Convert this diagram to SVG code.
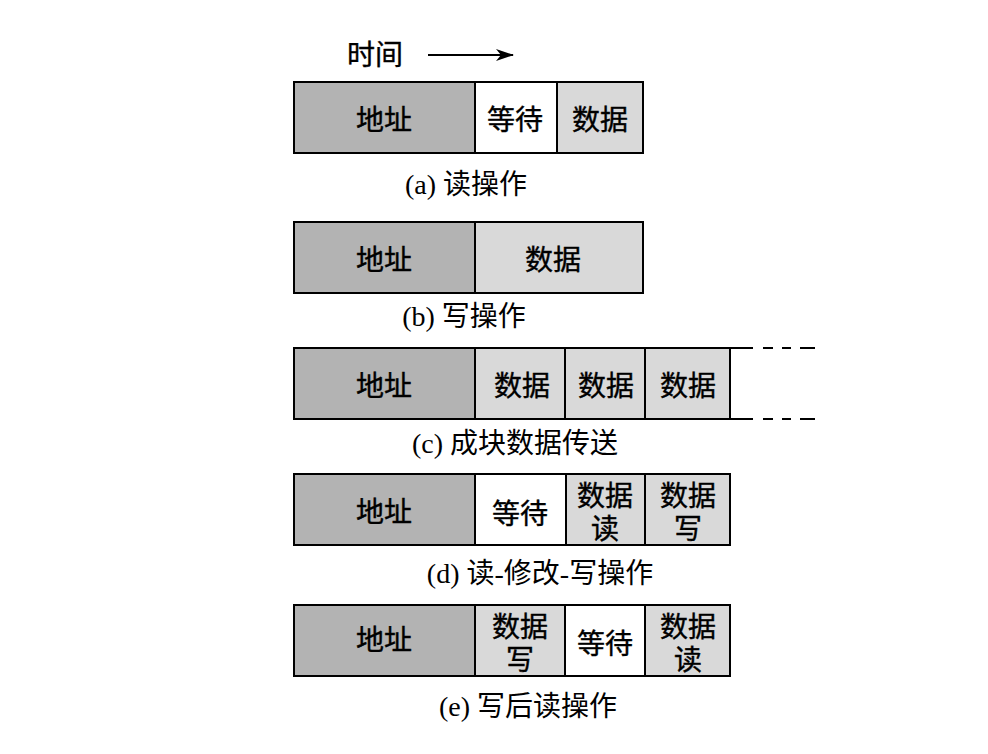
<svg xmlns="http://www.w3.org/2000/svg" width="988" height="754" viewBox="0 0 988 754">
<defs>
<style>
.addr{fill:#b3b3b3;stroke:#000;stroke-width:2}
.data{fill:#d9d9d9;stroke:#000;stroke-width:2}
.wait{fill:#ffffff;stroke:#000;stroke-width:2}
.lbl{font-family:"Noto Sans CJK SC","Liberation Sans",sans-serif;font-size:28px;fill:#000;stroke:#000;stroke-width:0.4;text-anchor:middle;dominant-baseline:central}
.cap{font-family:"Liberation Serif","Noto Sans CJK SC",serif;font-size:28px;fill:#000;text-anchor:middle;dominant-baseline:central}
.line{stroke:#000;stroke-width:2;fill:none}
</style>
<marker id="ah" markerWidth="18" markerHeight="12" refX="17" refY="6" orient="auto" markerUnits="userSpaceOnUse">
<path d="M0,0 L18,6 L0,12 L5,6 Z" fill="#000"/>
</marker>
</defs>
<rect width="988" height="754" fill="#fff"/>
<g id="time">
<text class="lbl" x="375" y="53">时间</text>
<line class="line" x1="428" y1="55" x2="513" y2="55" marker-end="url(#ah)"/>
</g>
<g id="row-a">
<rect class="addr" x="294" y="82" width="181" height="71"/>
<rect class="wait" x="475" y="82" width="82" height="71"/>
<rect class="data" x="557" y="82" width="86" height="71"/>
<text class="lbl" x="384" y="118">地址</text>
<text class="lbl" x="515" y="118">等待</text>
<text class="lbl" x="600" y="118">数据</text>
<text class="cap" x="466" y="184">(a) 读操作</text>
</g>
<g id="row-b">
<rect class="addr" x="294" y="222" width="181" height="71"/>
<rect class="data" x="475" y="222" width="168" height="71"/>
<text class="lbl" x="384" y="258">地址</text>
<text class="lbl" x="553" y="258">数据</text>
<text class="cap" x="464" y="316">(b) 写操作</text>
</g>
<g id="row-c">
<rect class="addr" x="294" y="348" width="181" height="71"/>
<rect class="data" x="475" y="348" width="90" height="71"/>
<rect class="data" x="565" y="348" width="80" height="71"/>
<rect class="data" x="645" y="348" width="85" height="71"/>
<text class="lbl" x="384" y="384">地址</text>
<text class="lbl" x="522" y="384">数据</text>
<text class="lbl" x="606" y="384">数据</text>
<text class="lbl" x="688" y="384">数据</text>
<text class="cap" x="515" y="443">(c) 成块数据传送</text>
</g>
<g id="connectors">
<path class="line" d="M730,348 H753 M763,348 H773 M782,348 H791 M800,348 H815"/>
<path class="line" d="M730,419 H753 M763,419 H773 M782,419 H791 M800,419 H815"/>
</g>
<g id="row-d">
<rect class="addr" x="294" y="474" width="181" height="71"/>
<rect class="wait" x="475" y="474" width="91" height="71"/>
<rect class="data" x="566" y="474" width="79" height="71"/>
<rect class="data" x="645" y="474" width="85" height="71"/>
<text class="lbl" x="384" y="510">地址</text>
<text class="lbl" x="520" y="512">等待</text>
<text class="lbl" x="605" y="494">数据<tspan x="605" dy="33">读</tspan></text>
<text class="lbl" x="688" y="494">数据<tspan x="688" dy="33">写</tspan></text>
<text class="cap" x="540" y="573">(d) 读-修改-写操作</text>
</g>
<g id="row-e">
<rect class="addr" x="294" y="605" width="181" height="71"/>
<rect class="data" x="475" y="605" width="90" height="71"/>
<rect class="wait" x="565" y="605" width="80" height="71"/>
<rect class="data" x="645" y="605" width="85" height="71"/>
<text class="lbl" x="384" y="638">地址</text>
<text class="lbl" x="520" y="625">数据<tspan x="520" dy="33">写</tspan></text>
<text class="lbl" x="605" y="642">等待</text>
<text class="lbl" x="688" y="625">数据<tspan x="688" dy="33">读</tspan></text>
<text class="cap" x="528" y="706">(e) 写后读操作</text>
</g>
</svg>
